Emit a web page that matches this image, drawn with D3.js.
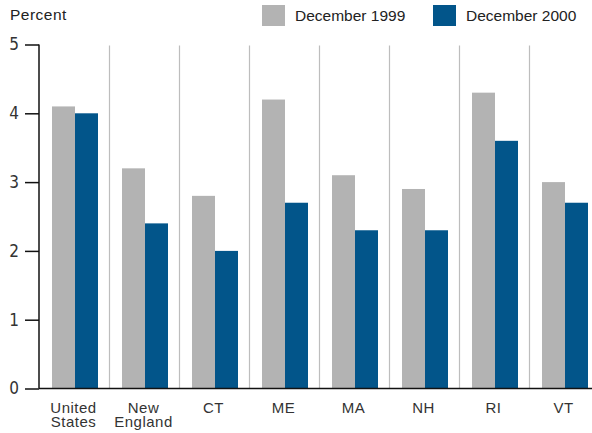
<!DOCTYPE html>
<html>
<head>
<meta charset="utf-8">
<script src="https://cdn.jsdelivr.net/npm/d3@7"></script>
<style>
  body { margin: 0; background: #fff; }
  svg { display: block; font-family: "Liberation Sans", Arial, sans-serif; }
</style>
</head>
<body>
<div id="chart"></div>
<script>
const categories = [
  ["United", "States"],
  ["New", "England"],
  ["CT"],
  ["ME"],
  ["MA"],
  ["NH"],
  ["RI"],
  ["VT"],
];
const seriesNames = ["December 1999", "December 2000"];
const dec1999 = [4.1, 3.2, 2.8, 4.2, 3.1, 2.9, 4.3, 3.0];
const dec2000 = [4.0, 2.4, 2.0, 2.7, 2.3, 2.3, 3.6, 2.7];
const yTicks = [0, 1, 2, 3, 4, 5];

const COLORS = ["#b3b3b3", "#02558a"];
const width = 592;
const height = 433;

const keys = categories.map((c) => c.join(" "));
const rows = keys.map((key, i) => ({ key, lines: categories[i], values: [dec1999[i], dec2000[i]] }));

const svg = d3.select("#chart")
  .append("svg")
  .attr("width", width)
  .attr("height", height);

const x = d3.scaleBand().domain(keys).range([39, 599]).paddingInner(0);
const y = d3.scaleLinear().domain([0, 5]).range([388.5, 44.5]);
const x1 = d3.scaleBand().domain([0, 1]).range([0, 46]);

// separators between categories
svg.append("g")
  .selectAll("line")
  .data(keys.slice(1))
  .join("line")
  .attr("x1", (d) => Math.round(x(d)) + 0.5)
  .attr("x2", (d) => Math.round(x(d)) + 0.5)
  .attr("y1", y(5) + 1)
  .attr("y2", y(0))
  .attr("stroke", "#bdbdbd")
  .attr("stroke-width", 1.2);

// bars
const group = svg.append("g")
  .selectAll("g")
  .data(rows)
  .join("g")
  .attr("transform", (d) => `translate(${x(d.key) + x.bandwidth() / 2 - 22},0)`);

group.selectAll("rect")
  .data((d) => d.values.map((v, i) => ({ v, i })))
  .join("rect")
  .attr("x", (d) => x1(d.i))
  .attr("width", x1.bandwidth())
  .attr("y", (d) => y(d.v))
  .attr("height", (d) => y(0) - y(d.v))
  .attr("fill", (d) => COLORS[d.i]);

// y axis
const yAxis = svg.append("g")
  .attr("transform", "translate(39,0)")
  .call(d3.axisLeft(y).tickValues(yTicks).tickSize(14).tickPadding(6).tickFormat(d3.format("d")));
yAxis.select(".domain").attr("d", `M0,${y(5)}V${y(0)}`).attr("stroke", "#111").attr("stroke-width", 1.5);
yAxis.selectAll(".tick line").attr("stroke", "#111").attr("stroke-width", 1.5);
yAxis.selectAll(".tick text")
  .attr("font-size", 17)
  .attr("fill", "#333")
  .attr("font-family", "'Liberation Sans Narrow', 'DejaVu Sans Condensed', sans-serif");

// baseline
svg.append("line")
  .attr("x1", 39).attr("x2", width)
  .attr("y1", y(0)).attr("y2", y(0))
  .attr("stroke", "#111").attr("stroke-width", 1.5);

// category labels
const labels = svg.append("g")
  .selectAll("text")
  .data(rows)
  .join("text")
  .attr("x", (d) => x(d.key) + x.bandwidth() / 2 - 0.5)
  .attr("y", 413)
  .attr("text-anchor", "middle")
  .attr("font-size", 15)
  .attr("letter-spacing", 0.5)
  .attr("fill", "#333");
labels.selectAll("tspan")
  .data((d) => d.lines)
  .join("tspan")
  .attr("x", function () { return d3.select(this.parentNode).attr("x"); })
  .attr("dy", (d, i) => (i === 0 ? 0 : 14))
  .text((d) => d);

// y title
svg.append("text")
  .attr("x", 10).attr("y", 20)
  .attr("font-size", 15.5)
  .attr("letter-spacing", 0.5)
  .attr("fill", "#222")
  .text("Percent");

// legend
const legendX = [262, 433];
const legend = svg.append("g")
  .selectAll("g")
  .data(seriesNames)
  .join("g")
  .attr("transform", (d, i) => `translate(${legendX[i]},5)`);
legend.append("rect")
  .attr("width", 23).attr("height", 21)
  .attr("fill", (d, i) => COLORS[i]);
legend.append("text")
  .attr("x", 33).attr("y", 16)
  .attr("font-size", 15.5)
  .attr("fill", "#222")
  .text((d) => d);
</script>
</body>
</html>
